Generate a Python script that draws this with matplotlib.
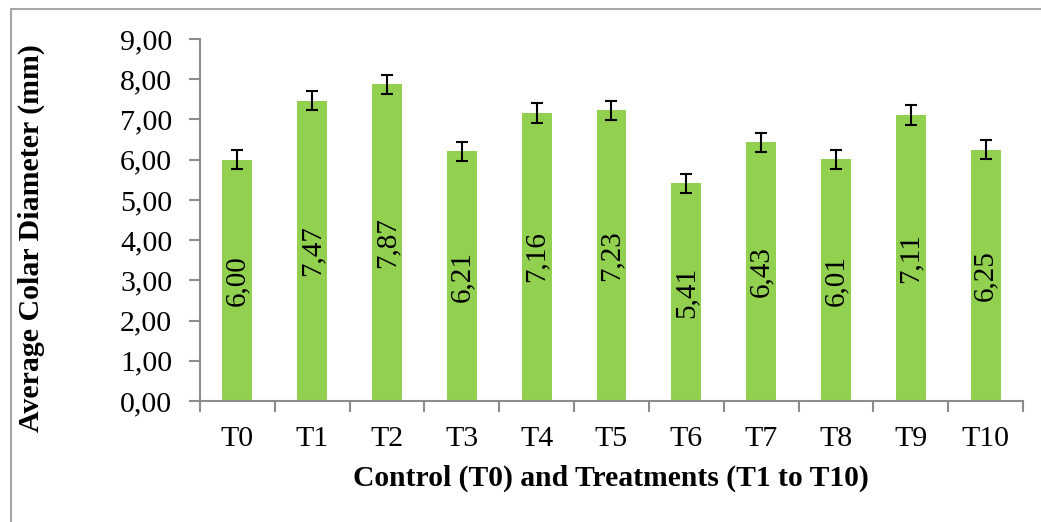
import matplotlib
matplotlib.use('Agg')
import matplotlib.pyplot as plt
from matplotlib.patches import Rectangle
import numpy as np

# data
labels = ['T0', 'T1', 'T2', 'T3', 'T4', 'T5', 'T6', 'T7', 'T8', 'T9', 'T10']
means = [6.00, 7.47, 7.87, 6.21, 7.16, 7.23, 5.41, 6.43, 6.01, 7.11, 6.25]
errs = [0.24, 0.24, 0.24, 0.24, 0.24, 0.24, 0.24, 0.24, 0.24, 0.24, 0.24]

plt.rcParams['font.family'] = ['Liberation Serif', 'DejaVu Serif']
grey = '#8c8c8c'

fig = plt.figure(figsize=(10.41, 5.22), dpi=100)
ax = fig.add_axes([0.1921, 0.2318, 0.7906, 0.6935])

x = np.arange(len(labels))
ax.bar(x, means, width=0.4, color='#92D050', zorder=2)
ax.errorbar(x, means, yerr=errs, fmt='none', ecolor='black', elinewidth=1.5,
            capsize=4.6, capthick=1.5, zorder=3)

for xi, m in zip(x, means):
    ax.text(xi, m / 2, '{:.2f}'.format(m).replace('.', ','), rotation=90,
            ha='center', va='center', fontsize=21, zorder=4)

ax.set_xlim(-0.5, len(labels) - 0.5)
ax.set_ylim(0, 9)
ax.set_yticks(np.arange(0, 10, 1))
ax.set_yticklabels(['{:.2f}'.format(v).replace('.', ',') for v in range(10)], fontsize=21.5)
ax.set_xticks(x)
ax.set_xticklabels(labels, fontsize=21.5)
ax.set_xticks(np.arange(-0.5, len(labels), 1), minor=True)
ax.tick_params(axis='x', which='major', length=0, pad=18)
ax.tick_params(axis='x', which='minor', length=8, width=1.5, color=grey)
ax.tick_params(axis='y', length=8, width=1.5, color=grey, pad=12)

for s in ['top', 'right']:
    ax.spines[s].set_visible(False)
for s in ['left', 'bottom']:
    ax.spines[s].set_color(grey)
    ax.spines[s].set_linewidth(1.5)

ax.set_xlabel('Control (T0) and Treatments (T1 to T10)', fontsize=21.3, fontweight='bold', va='center')
ax.set_ylabel('Average Colar Diameter (mm)', fontsize=21.5, fontweight='bold', va='center')
ax.xaxis.set_label_coords(0.4988, -0.2127)
ax.yaxis.set_label_coords(-0.205, 0.45)

# chart area border (Excel style)
fig.patches.append(Rectangle((10.5 / 1041, -0.05), 1.1, (522 - 8.5) / 522 + 0.05,
                             transform=fig.transFigure, fill=False,
                             edgecolor='#a6a6a6', linewidth=1.5))

fig.savefig('out.png', dpi=100)
